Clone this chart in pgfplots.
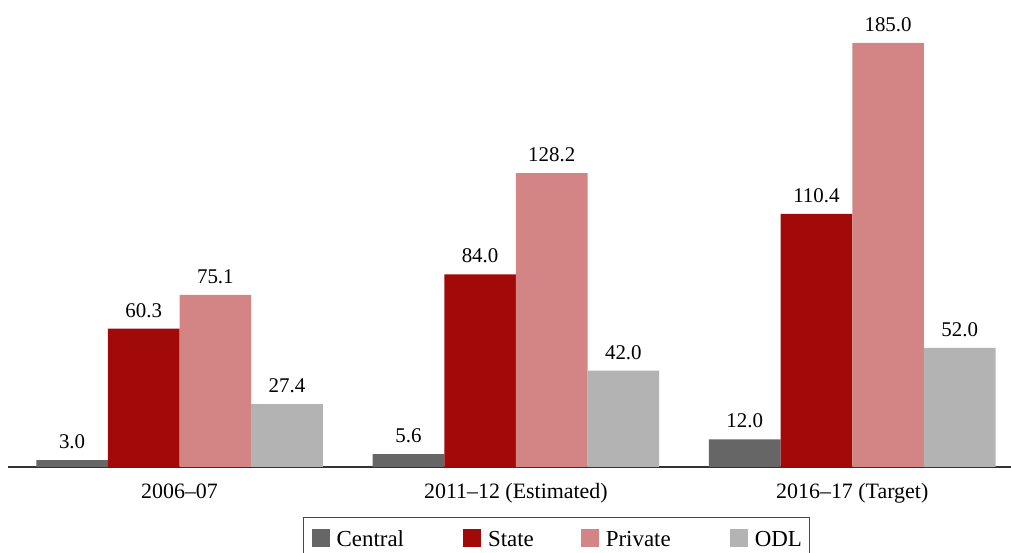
\documentclass[border=0pt]{standalone}
\usepackage{pgfplots}
\pgfplotsset{compat=1.18}
\usepackage{fontspec}
\setmainfont{Liberation Serif}
\definecolor{cCentral}{HTML}{666666}
\definecolor{cState}{HTML}{A20A0A}
\definecolor{cPrivate}{HTML}{D38585}
\definecolor{cODL}{HTML}{B3B3B3}
\definecolor{cAxis}{HTML}{333333}
\begin{document}
\begin{tikzpicture}[x=1bp,y=1bp]
\useasboundingbox (0,0) rectangle (1011,553);
\begin{axis}[
  at={(8bp,86bp)}, anchor=south west,
  scale only axis, width=1003bp, height=467bp,
  xmin=-0.51, xmax=2.472, ymin=0, ymax=203.7,
  axis x line*=bottom, axis y line=none,
  x axis line style={-, line width=1.3bp, color=cAxis},
  xtick={0,1,2},
  xticklabels={2006--07, 2011--12 (Estimated), 2016--17 (Target)},
  major tick length=0pt,
  xticklabel style={font=\fontsize{22}{26}\selectfont, text height=14.8bp, text depth=0bp, inner sep=0pt, anchor=north, yshift=-17bp},
  ytick=\empty,
  ybar=0pt, bar width=0.213,
  /pgf/number format/assume math mode=true,
  nodes near coords,
  nodes near coords style={font=\fontsize{21}{25}\selectfont, /pgf/number format/fixed, /pgf/number format/fixed zerofill, /pgf/number format/precision=1, inner sep=0pt, anchor=south, yshift=11bp, text=black},
  legend columns=4,
  legend style={at={(axis description cs:0.2941,-0.1071)}, anchor=north west, draw=cAxis!90, line width=1.2bp, font=\fontsize{23}{27}\selectfont, inner xsep=8bp, inner ysep=11bp,
    nodes={inner sep=0pt, anchor=base},
    /tikz/column 1/.style={column sep=7bp},
    /tikz/column 2/.style={column sep=59bp},
    /tikz/column 3/.style={column sep=7bp},
    /tikz/column 4/.style={column sep=47bp},
    /tikz/column 5/.style={column sep=7bp},
    /tikz/column 6/.style={column sep=59bp},
    /tikz/column 7/.style={column sep=7bp}},
  legend image code/.code={\fill[#1] (0bp,0bp) rectangle (18bp,18bp);},
]
\addplot[fill=cCentral, draw=none] coordinates {(0,3.0) (1,5.6) (2,12.0)};
\addplot[fill=cState, draw=none] coordinates {(0,60.3) (1,84.0) (2,110.4)};
\addplot[fill=cPrivate, draw=none] coordinates {(0,75.1) (1,128.2) (2,185.0)};
\addplot[fill=cODL, draw=none] coordinates {(0,27.4) (1,42.0) (2,52.0)};
\legend{Central, State, Private, ODL}
\end{axis}
\end{tikzpicture}
\end{document}
